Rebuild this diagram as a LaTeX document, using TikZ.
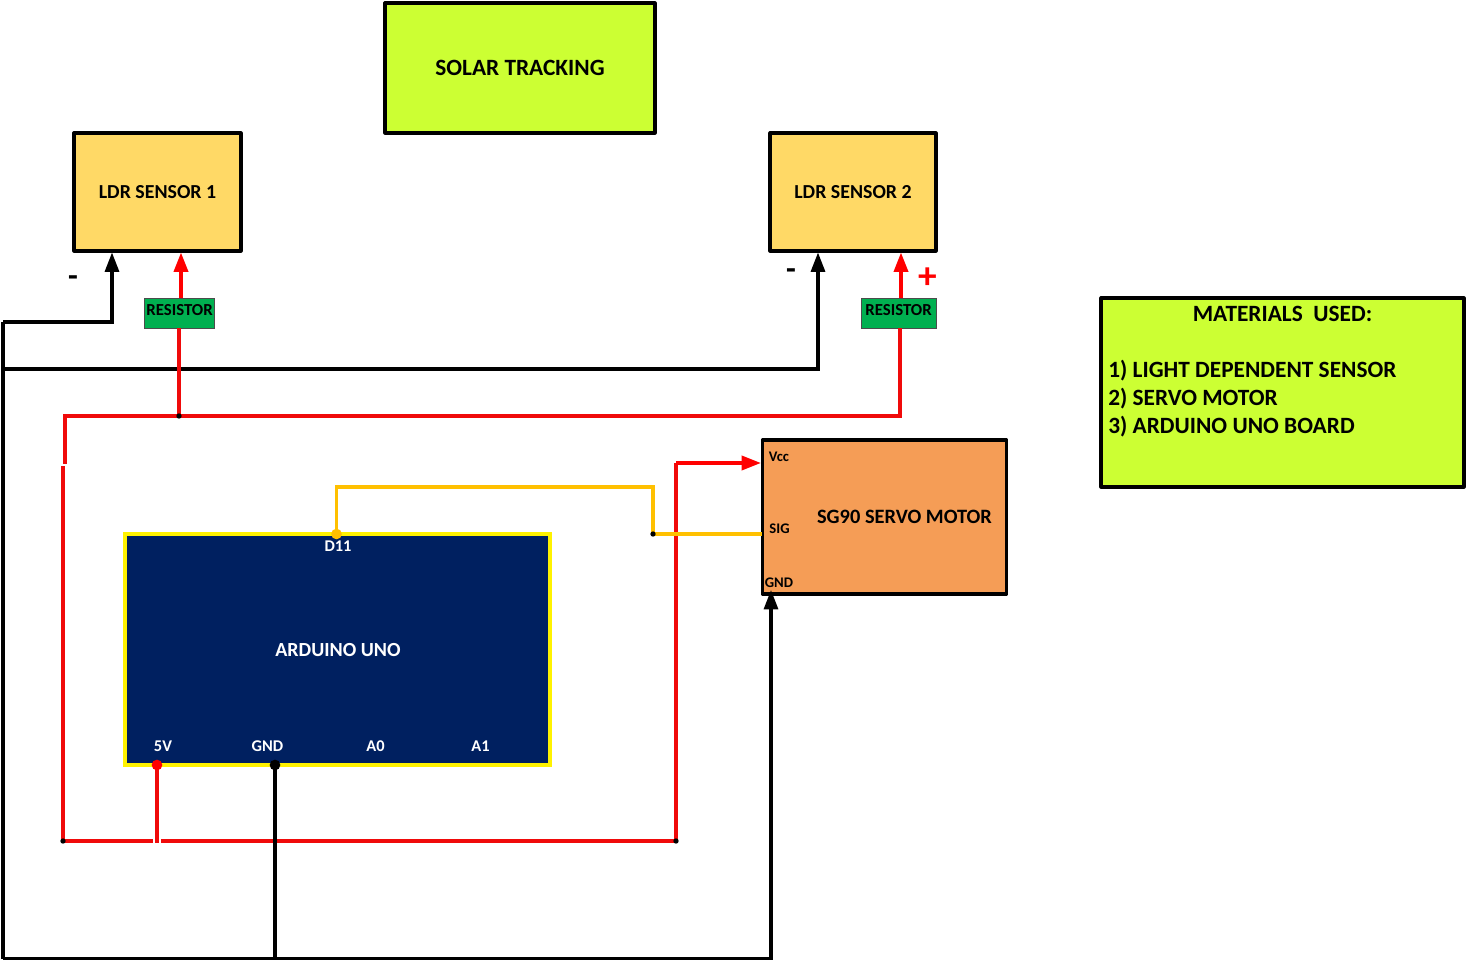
\documentclass[tikz,border=0pt]{standalone}
\usepackage{fontspec}
\setmainfont{Carlito}
\usetikzlibrary{arrows.meta}
\definecolor{lime}{HTML}{CCFF33}
\definecolor{ldr}{HTML}{FFD966}
\definecolor{servo}{HTML}{F59D56}
\definecolor{resist}{HTML}{00B050}
\definecolor{navy}{HTML}{002060}
\definecolor{wirered}{HTML}{F00A0A}
\definecolor{wireorange}{HTML}{FFC000}
\tikzset{
  x=0.75pt,y=-0.75pt,
  sz/.style 2 args={minimum width=#1*0.75pt,minimum height=#2*0.75pt,inner sep=0pt,outer sep=0pt},
  blockbox/.style={draw=black,line width=2.4pt,line join=round},
  resbox/.style={draw=black!70,fill=resist,line width=0.7pt},
  restext/.style={font=\bfseries\fontsize{12.6}{14}\selectfont,inner sep=0pt},
  pinlabel/.style={text=white,font=\bfseries\fontsize{12.3}{14}\selectfont,inner sep=0pt},
  spin/.style={text=black,font=\bfseries\fontsize{11}{13}\selectfont,inner sep=0pt},
  mat/.style={font=\bfseries\fontsize{17.5}{20}\selectfont,inner sep=0pt,anchor=west},
  blk/.style={draw=black,line width=2.3pt,line join=miter},
  rd/.style={draw=wirered,line width=2.3pt,line join=miter},
  rdarrow/.style={draw=red,line width=2.6pt,-{Triangle[length=14.5pt,width=10.5pt]}},
  blkarrow/.style={draw=black,line width=2.3pt,-{Triangle[length=14.5pt,width=10.5pt]}},
  org/.style={draw=wireorange,line width=2.3pt},
  dot/.style={circle,fill=black,inner sep=0pt,minimum size=4pt}
}
\begin{document}
\begin{tikzpicture}
\useasboundingbox (0,0) rectangle (1467,962);
% blocks
\node[blockbox,fill=lime,sz={270}{130},font=\bfseries\fontsize{17.5}{20}\selectfont] (title) at (520,68) {SOLAR TRACKING};
\node[blockbox,fill=ldr,sz={167}{118},font=\bfseries\fontsize{14.9}{17}\selectfont] (ldra) at (157.5,192) {LDR SENSOR 1};
\node[blockbox,fill=ldr,sz={166}{118},font=\bfseries\fontsize{14.9}{17}\selectfont] (ldrb) at (853,192) {LDR SENSOR 2};
\node[blockbox,fill=lime,sz={363}{189}] (materials) at (1282.5,392.5) {};
\node[mat,anchor=center] (mathead) at (1282.5,314) {MATERIALS\ \ USED:};
\node[mat] (mata) at (1108,371) {1) LIGHT DEPENDENT SENSOR};
\node[mat] (matb) at (1108,399) {2) SERVO MOTOR};
\node[mat] (matc) at (1108,427) {3) ARDUINO UNO BOARD};
\node[blockbox,fill=servo,sz={244}{154}] (servobox) at (884.5,517) {};
\node[font=\bfseries\fontsize{15.3}{18}\selectfont,inner sep=0pt] (servotext) at (904.5,517) {SG90 SERVO MOTOR};
\node[spin] (vcc) at (779,457) {Vcc};
\node[spin] (sig) at (779.5,529) {SIG};
\node[spin] (sgnd) at (779,583) {GND};
\node[draw=yellow,fill=navy,line width=2.8pt,sz={425}{231}] (uno) at (337.5,649.5) {};
\node[text=white,font=\bfseries\fontsize{15}{18}\selectfont,inner sep=0pt] (unotext) at (338,650) {ARDUINO UNO};
\node[pinlabel] (d11) at (338,546) {D11};
\node[pinlabel] (pfive) at (163,746) {5V};
\node[pinlabel] (pgnd) at (267.5,746) {GND};
\node[pinlabel] (pa0) at (375.5,746) {A0};
\node[pinlabel] (pa1) at (480.5,746) {A1};
\node[resbox,sz={70}{30}] (resa) at (179,313) {};
\node[restext] (resatext) at (179.5,310) {RESISTOR};
\node[resbox,sz={75}{30}] (resb) at (898.5,313) {};
\node[restext] (resbtext) at (898.5,310) {RESISTOR};
\node[font=\bfseries\fontsize{24}{26}\selectfont,inner sep=0pt] (minusa) at (73,281) {-};
\node[font=\bfseries\fontsize{24}{26}\selectfont,inner sep=0pt] (minusb) at (791,274) {-};
\node[text=red,font=\bfseries\fontsize{28}{30}\selectfont,inner sep=0pt] (plus) at (928,278) {+};
% junctions
\coordinate (la) at (3,322);
\coordinate (lb) at (3,369);
\coordinate (lc) at (3,958.5);
\coordinate (gj) at (275,958.5);
\coordinate (ga) at (112,252.5);
\coordinate (gb) at (818,252.5);
\coordinate (gs) at (771,590);
\coordinate (gu) at (275,765);
\coordinate (ja) at (179,416);
\coordinate (jb) at (65,416);
\coordinate (jc) at (65,464);
\coordinate (jd) at (63,466);
\coordinate (je) at (63,841);
\coordinate (jf) at (157,843);
\coordinate (jfl) at (153,841);
\coordinate (jfr) at (161,841);
\coordinate (jg) at (676,841);
\coordinate (jh) at (676,463);
\coordinate (ji) at (761,463);
\coordinate (fv) at (157,765);
\coordinate (rao) at (181,298);
\coordinate (rai) at (179,328);
\coordinate (rat) at (181,252.5);
\coordinate (rbo) at (901,298);
\coordinate (rbi) at (900,328);
\coordinate (rbt) at (901,252.5);
\coordinate (oa) at (336.5,534);
\coordinate (ob) at (336.5,487);
\coordinate (oc) at (653,487);
\coordinate (od) at (653,534);
\coordinate (oe) at (762,534);
% black wires
\draw[blk] (lc) -- (la);
\draw[blkarrow] (la) -| (ga);
\draw[blkarrow] (lb) -| (gb);
\draw[blk] (lc) -- (gj);
\draw[blkarrow] (gj) -| (gs);
% red wires
\draw[rd] (rai) -- (ja);
\draw[rd] (jc) -- (jb) -- (rbi |- jb) -- (rbi);
\draw[rd] (jd) -- (je) -- (jg) -- (jh);
\draw[rdarrow] (jh) -- (ji);
\draw[draw=white,line width=3pt] (jfl) -- (jfr);
\draw[rd] (fv) -- (jf);
\draw[rdarrow] (rao) -- (rat);
\draw[rdarrow] (rbo) -- (rbt);
% ground from the board, over the red rail
\draw[blk] (gu) -- (gj);
% signal wire
\draw[org] (oa) -- (ob) -- (oc) -- (od) -- (oe);
% dots
\node[dot,minimum size=8pt,fill=wireorange] (dotd) at (oa) {};
\node[dot,minimum size=8pt,fill=red] (dotv) at (fv) {};
\node[dot,minimum size=8pt] (dotg) at (gu) {};
\node[dot] (dota) at (ja) {};
\node[dot] (dotb) at (je) {};
\node[dot] (dotc) at (jg) {};
\node[dot] (dote) at (od) {};
\end{tikzpicture}
\end{document}
